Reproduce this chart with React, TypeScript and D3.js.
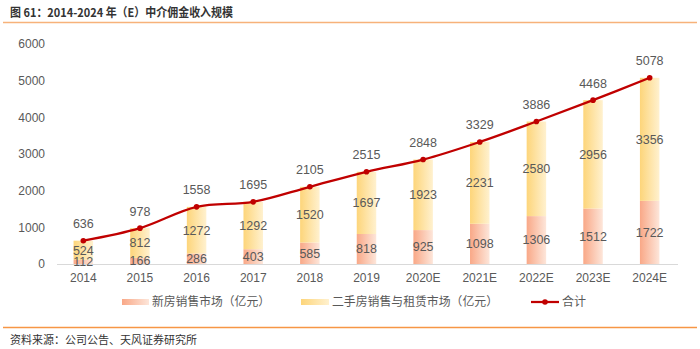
import React from "react";
import * as d3 from "d3";

const categories = ["2014", "2015", "2016", "2017", "2018", "2019", "2020E", "2021E", "2022E", "2023E", "2024E"];
const newHouse = [112, 166, 286, 403, 585, 818, 925, 1098, 1306, 1512, 1722];
const secondHand = [524, 812, 1272, 1292, 1520, 1697, 1923, 2231, 2580, 2956, 3356];
const totals = [636, 978, 1558, 1695, 2105, 2515, 2848, 3329, 3886, 4468, 5078];
const yTicks = [0, 1000, 2000, 3000, 4000, 5000, 6000];

const W = 700;
const H = 349;
const FONT = "'Liberation Sans', 'Noto Sans CJK SC', sans-serif";
const CJK = "'Noto Sans CJK SC', sans-serif";
const TXT = "#595959";

export default function App() {
  const x = d3.scaleBand<string>().domain(categories).range([55, 678]);
  const y = d3.scaleLinear().domain([0, 6000]).range([264, 44]);
  const bw = 19.5;
  const cx = (c: string) => (x(c) as number) + x.bandwidth() / 2;
  const line = d3
    .line<number>()
    .x((_, i) => cx(categories[i]))
    .y((d) => y(d))
    .curve(d3.curveCatmullRom.alpha(0.5));

  return (
    <svg width={W} height={H} style={{ position: "absolute", left: 0, top: 0 }}>
      <defs>
        <linearGradient id="gNew" x1="0" x2="1" y1="0" y2="0">
          <stop offset="0" stopColor="#F9A887" />
          <stop offset="1" stopColor="#FDE6DA" />
        </linearGradient>
        <linearGradient id="gSec" x1="0" x2="1" y1="0" y2="0">
          <stop offset="0" stopColor="#FDD57A" />
          <stop offset="1" stopColor="#FFF1CF" />
        </linearGradient>
      </defs>
      <rect x={0} y={0} width={W} height={H} fill="#fff" />
      <text
        x={10}
        y={17}
        fontFamily={CJK}
        fontSize={12}
        fontWeight="bold"
        fill="#333"
        textLength={223}
        lengthAdjust="spacingAndGlyphs"
      >
        图 61：2014-2024 年（E）中介佣金收入规模
      </text>
      <line x1={3} x2={697} y1={22.5} y2={22.5} stroke="#F7B27A" strokeWidth={1.5} />

      {yTicks.map((t) => (
        <text key={t} x={45} y={y(t)} dy="0.35em" textAnchor="end" fontFamily={FONT} fontSize={12} fill={TXT}>
          {t}
        </text>
      ))}

      {categories.map((c, i) => {
        const x0 = cx(c) - bw / 2;
        return (
          <g key={c}>
            <rect x={x0} y={y(newHouse[i])} width={bw} height={y(0) - y(newHouse[i])} fill="url(#gNew)" />
            <rect
              x={x0}
              y={y(newHouse[i] + secondHand[i])}
              width={bw}
              height={y(newHouse[i]) - y(newHouse[i] + secondHand[i])}
              fill="url(#gSec)"
            />
          </g>
        );
      })}

      <line x1={57} x2={678} y1={264.5} y2={264.5} stroke="#D9D9D9" strokeWidth={1} />

      {categories.map((c) => (
        <text key={c} x={cx(c)} y={282} textAnchor="middle" fontFamily={FONT} fontSize={12} fill={TXT}>
          {c}
        </text>
      ))}

      <path d={line(totals) || ""} fill="none" stroke="#C00000" strokeWidth={2.25} />
      {totals.map((t, i) => (
        <circle key={i} cx={cx(categories[i])} cy={y(t)} r={2.8} fill="#C00000" />
      ))}

      {categories.map((c, i) => (
        <g key={"lbl" + c} fontFamily={FONT} fontSize={12.5} fill={TXT} textAnchor="middle">
          <text x={cx(c)} y={y(newHouse[i] / 2)} dy="0.35em">{newHouse[i]}</text>
          <text x={cx(c)} y={y(newHouse[i] + secondHand[i] / 2)} dy="0.35em">{secondHand[i]}</text>
          <text x={cx(c)} y={y(totals[i]) - 17} dy="0.35em">{totals[i]}</text>
        </g>
      ))}

      <g fontFamily={CJK} fontSize={12} fill={TXT}>
        <rect x={122} y={299} width={27} height={6} fill="url(#gNew)" />
        <text x={152} y={302} dy="0.35em" textLength={118} lengthAdjust="spacingAndGlyphs">新房销售市场（亿元）</text>
        <rect x={301} y={299} width={28} height={6} fill="url(#gSec)" />
        <text x={332} y={302} dy="0.35em" textLength={166} lengthAdjust="spacingAndGlyphs">二手房销售与租赁市场（亿元）</text>
        <line x1={531} x2={559} y1={302} y2={302} stroke="#C00000" strokeWidth={2.25} />
        <circle cx={545} cy={302} r={2.8} fill="#C00000" />
        <text x={562} y={302} dy="0.35em">合计</text>
      </g>

      <line x1={3} x2={697} y1={327.5} y2={327.5} stroke="#F79646" strokeWidth={1.5} />
      <text x={10} y={340} dy="0.35em" fontFamily={CJK} fontSize={11} fill="#333">
        资料来源：公司公告、天风证券研究所
      </text>
    </svg>
  );
}
